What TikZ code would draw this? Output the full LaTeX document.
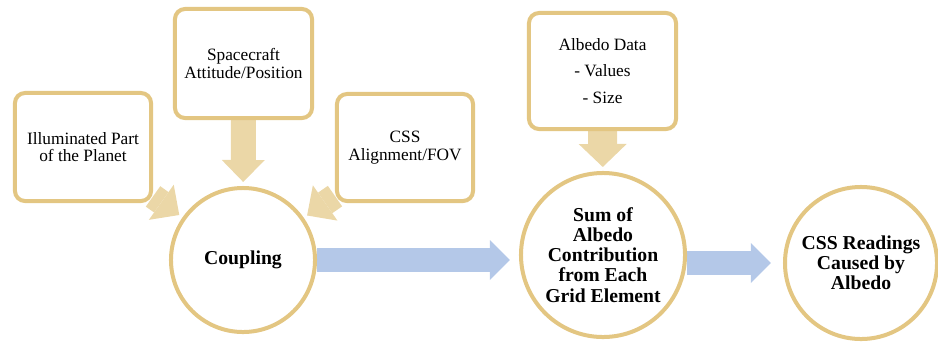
\documentclass[tikz,border=0pt]{standalone}
\usepackage{fontspec}
\setmainfont{Liberation Serif}
\usepackage{xcolor}
\usepackage{tikz}
\usetikzlibrary{arrows.meta,backgrounds}

\begin{document}
\begin{tikzpicture}[x=0.025cm, y=-0.025cm,
    infobox/.style={draw=tanLine, fill=white, line width=0.1cm, rounded corners=0.25cm,
        align=center, font=\fontsize{12.3}{12.6}\selectfont},
    stagecircle/.style={circle, draw=tanLine, fill=white, line width=0.1cm, inner sep=0pt,
        align=center, font=\fontsize{14}{14.3}\selectfont\bfseries},
    feedarrow/.style={draw=tanFill, line width=0.625cm, shorten >=0.1cm,
        -{Triangle[width=1.075cm, length=0.55cm, line width=0pt]}},
    flowarrow/.style={draw=blueFill, line width=0.6cm,
        -{Triangle[width=1cm, length=0.5cm, line width=0pt]}}]
    % --- LAYER 1: COLOURS AND FRAME ---
    \definecolor{tanLine}{HTML}{E3C682}
    \definecolor{tanFill}{HTML}{EBD7A7}
    \definecolor{blueFill}{HTML}{B4C8E8}
    \useasboundingbox (0,0) rectangle (938,344);

    % --- LAYER 2: INPUT BOXES ---
    \node[infobox, minimum width=3.4cm, minimum height=2.7cm] (planet) at (83,147) {Illuminated Part\\of the Planet};
    \node[infobox, minimum width=3.425cm, minimum height=2.725cm] (attitude) at (243.5,63.5) {Spacecraft\\Attitude/Position};
    \node[infobox, minimum width=3.4cm, minimum height=2.675cm] (fov) at (405,147.5) {CSS\\Alignment/FOV};
    \node[infobox, minimum width=3.675cm, minimum height=2.9cm] (albedodata) at (602.5,71) {Albedo Data\\[6pt]- Values\\[6pt]- Size};

    % --- LAYER 3: PROCESS CIRCLES ---
    \node[stagecircle, minimum size=3.6cm] (coupling) at (243,260) {Coupling};
    \node[stagecircle, minimum size=4.1cm] (sum) at (603,255) {Sum of\\Albedo\\Contribution\\from Each\\Grid Element};
    \node[stagecircle, minimum size=3.8cm] (readings) at (861,263) {CSS Readings\\Caused by\\Albedo};

    % --- LAYER 4: BLOCK ARROWS (behind boxes and circles) ---
    \begin{scope}[on background layer]
        \foreach \src in {planet, attitude, fov} {
            \draw[feedarrow] (\src) -- (coupling);
        }
        \draw[feedarrow, line width=0.725cm, -{Triangle[width=1.2cm, length=0.575cm, line width=0pt]}] (albedodata) -- (sum);
        \draw[flowarrow, shorten >=0.225cm] (coupling.east) -- (coupling.east -| sum.west);
        \draw[flowarrow, shorten >=0.3cm] (sum.east |- readings.west) -- (readings.west);
    \end{scope}

\end{tikzpicture}
\end{document}
